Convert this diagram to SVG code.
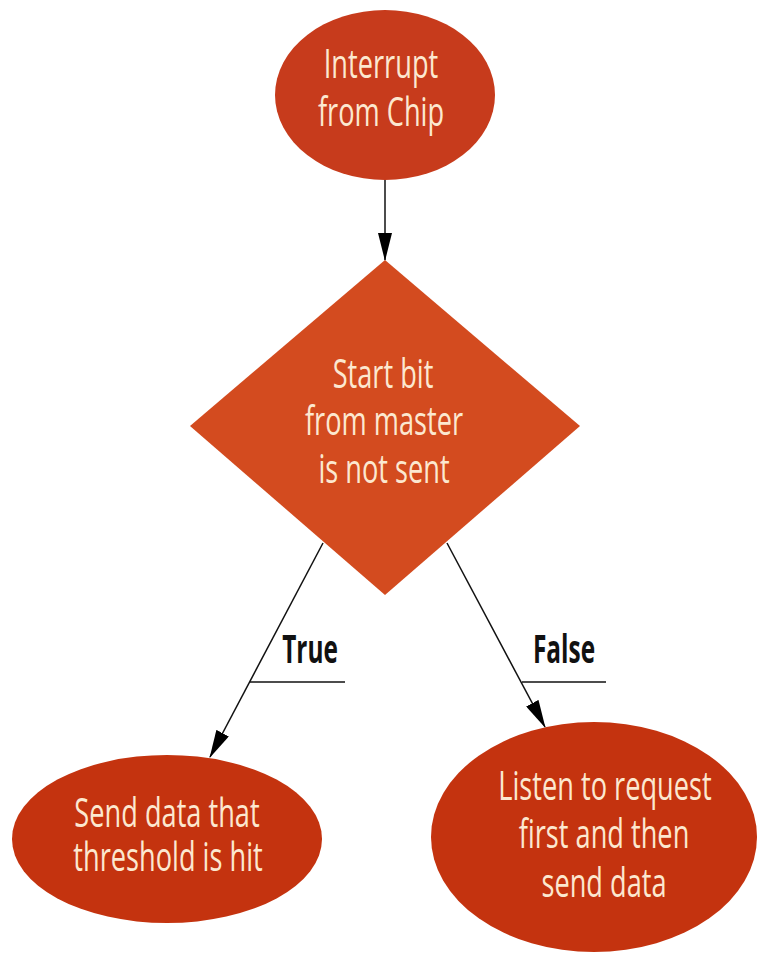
<svg xmlns="http://www.w3.org/2000/svg" width="767" height="955" viewBox="0 0 767 955">
<style>
.nt{font-family:"Open Sans","Noto Sans","DejaVu Sans",sans-serif;font-size:40px;fill:#FCE8D0;text-anchor:middle}
.lb{font-family:"Open Sans","Noto Sans","DejaVu Sans",sans-serif;font-size:40px;font-weight:bold;fill:#111;text-anchor:middle}
.edge{stroke:#111;stroke-width:1.5;fill:none}
</style>
<defs>
<marker id="ah" markerWidth="28" markerHeight="14" refX="27" refY="7" orient="auto" markerUnits="userSpaceOnUse">
<path d="M0,0 L28,7 L0,14 Z" fill="#000"/>
</marker>
</defs>
<rect width="767" height="955" fill="#fff"/>
<g id="connectors">
<line class="edge" x1="385" y1="180" x2="385" y2="260" marker-end="url(#ah)"/>
<line class="edge" x1="323" y1="543" x2="210" y2="757" marker-end="url(#ah)"/>
<line class="edge" x1="447" y1="543" x2="545" y2="727" marker-end="url(#ah)"/>
<line class="edge" x1="250" y1="682" x2="345" y2="682"/>
<line class="edge" x1="522" y1="682" x2="606" y2="682"/>
<text class="lb" transform="translate(310,663) scale(0.61,1)">True</text>
<text class="lb" transform="translate(564,663) scale(0.61,1)">False</text>
</g>
<g id="start">
<ellipse cx="385" cy="95" rx="110" ry="85" fill="#C73B1C"/>
<text class="nt" transform="translate(381,78) scale(0.68,1)">Interrupt</text>
<text class="nt" transform="translate(381,126) scale(0.68,1)">from Chip</text>
</g>
<g id="decision">
<polygon points="385,260 580,426 385,595 190,426" fill="#D34B1F"/>
<text class="nt" transform="translate(383,388) scale(0.68,1)">Start bit</text>
<text class="nt" transform="translate(384,435) scale(0.68,1)">from master</text>
<text class="nt" transform="translate(384,483) scale(0.68,1)">is not sent</text>
</g>
<g id="true-node">
<ellipse cx="167" cy="839" rx="155" ry="84" fill="#C4330F"/>
<text class="nt" transform="translate(167,827) scale(0.68,1)">Send data that</text>
<text class="nt" transform="translate(168,871) scale(0.68,1)">threshold is hit</text>
</g>
<g id="false-node">
<ellipse cx="594" cy="837" rx="163" ry="115" fill="#C4330F"/>
<text class="nt" transform="translate(605,800) scale(0.68,1)">Listen to request</text>
<text class="nt" transform="translate(604,848) scale(0.68,1)">first and then</text>
<text class="nt" transform="translate(604,897) scale(0.68,1)">send data</text>
</g>
</svg>
